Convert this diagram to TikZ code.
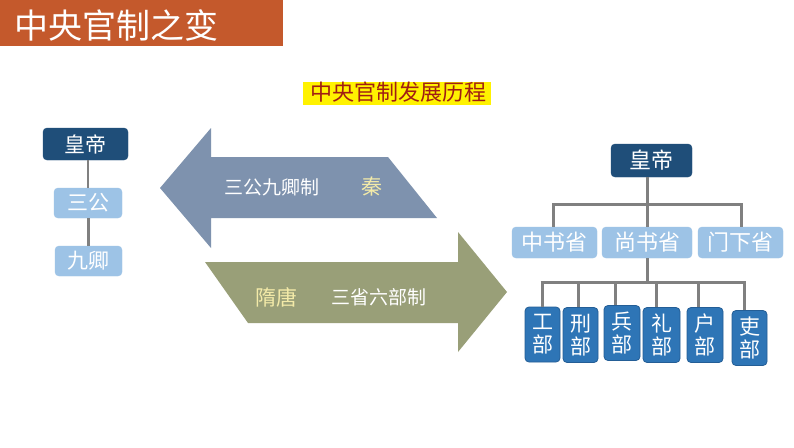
\documentclass[tikz,border=0pt]{standalone}
\usepackage{fontspec}
\newfontfamily\cjk{Noto Sans CJK SC}
\definecolor{titlebar}{RGB}{196,89,44}
\definecolor{arrowblue}{RGB}{126,146,174}
\definecolor{arrowolive}{RGB}{153,159,120}
\definecolor{darkblue}{RGB}{31,78,121}
\definecolor{lightblue}{RGB}{157,195,230}
\definecolor{midblue}{RGB}{46,117,182}
\definecolor{midborder}{RGB}{36,94,150}
\definecolor{paleyellow}{RGB}{243,234,168}
\definecolor{subred}{RGB}{160,30,20}
\definecolor{conngray}{RGB}{128,128,128}
\tikzset{
  darkbox/.style={fill=darkblue, draw=darkblue, rounded corners=4pt, text=white, inner sep=0pt, font=\cjk\fontsize{21}{24}\selectfont},
  lightbox/.style={fill=lightblue, draw=lightblue, rounded corners=4pt, text=white, inner sep=0pt, font=\cjk\fontsize{21}{24}\selectfont},
  bubox/.style={fill=midblue, draw=midborder, line width=0.8pt, rounded corners=4pt, text=white, inner sep=0pt, minimum width=36pt, minimum height=55pt, align=center, font=\cjk\fontsize{21}{23}\selectfont},
  conn/.style={draw=conngray, line width=3pt},
  arrtext/.style={text=white, inner sep=0pt, font=\cjk\fontsize{19}{22}\selectfont},
  erattext/.style={text=paleyellow, inner sep=0pt, font=\cjk\fontsize{21}{24}\selectfont},
}
\begin{document}
\begin{tikzpicture}[x=1pt,y=-1pt]
\useasboundingbox (0,0) rectangle (794,447);
\fill[white] (0,0) rectangle (794,447);
% title bar
\fill[titlebar] (0,0) rectangle (283,46);
\node[anchor=west, text=white, inner sep=0pt, font=\cjk\fontsize{34}{38}\selectfont] (title) at (14,25) {中央官制之变};
% subtitle
\fill[yellow] (303,82) rectangle (491,105);
\node[text=subred, inner sep=0pt, font=\cjk\fontsize{22}{26}\selectfont] (sub) at (398,92.5) {中央官制发展历程};
% left arrow
\fill[arrowblue] (160,188) -- (211,128) -- (211,157) -- (388,157) -- (437,218) -- (211,218) -- (211,248) -- cycle;
\node[arrtext] (sgjq) at (272,187) {三公九卿制};
\node[erattext] (qin) at (372,187) {秦};
% right arrow
\fill[arrowolive] (205,262) -- (458,262) -- (458,232) -- (507,292) -- (458,352) -- (458,323) -- (248,323) -- cycle;
\node[erattext] (st) at (276,297) {隋唐};
\node[arrtext] (ssl) at (379,297) {三省六部制};
% left tree
\node[darkbox, minimum width=85pt, minimum height=32pt] (lh) at (85.5,144) {皇帝};
\node[lightbox, minimum width=68pt, minimum height=30pt] (sg) at (88,203) {三公};
\node[lightbox, minimum width=67pt, minimum height=30pt] (jq) at (88.5,261) {九卿};
\draw[conn, line width=2.5pt] (sg.north) -- (sg.north |- lh.south);
\draw[conn, line width=2.5pt] (jq.north) -- (jq.north |- sg.south);
% right tree
\node[darkbox, minimum width=81pt, minimum height=33pt, font=\cjk\fontsize{22}{26}\selectfont] (rh) at (651.5,160.5) {皇帝};
\node[lightbox, minimum width=85pt, minimum height=31pt, font=\cjk\fontsize{22}{26}\selectfont] (zs) at (554.5,242.5) {中书省};
\node[lightbox, minimum width=90pt, minimum height=31pt, font=\cjk\fontsize{22}{26}\selectfont] (ss) at (647,242.5) {尚书省};
\node[lightbox, minimum width=85pt, minimum height=31pt, font=\cjk\fontsize{22}{26}\selectfont] (mx) at (740.5,242.5) {门下省};
\coordinate (h1l) at (553,204);
\coordinate (h1r) at (741,204);
\draw[conn] (ss.north) -- (ss.north |- rh.south);
\draw[conn] (h1l |- zs.north) -- (h1l) -- (h1r) -- (h1r |- mx.north);
% six ministries
\node[bubox, minimum width=35pt] (b1) at (542.5,334.5) {工\\部};
\node[bubox, minimum width=35pt] (b2) at (580.5,335) {刑\\部};
\node[bubox] (b3) at (622,333) {兵\\部};
\node[bubox, minimum width=37pt] (b4) at (661.5,335) {礼\\部};
\node[bubox] (b5) at (705,335) {户\\部};
\node[bubox, minimum width=35pt] (b6) at (749.5,338) {吏\\部};
\coordinate (t1) at (542,282);
\coordinate (t2) at (578,282);
\coordinate (t3) at (615,282);
\coordinate (t4) at (656,282);
\coordinate (t5) at (698,282);
\coordinate (t6) at (744,282);
\draw[conn] (ss.south) -- (ss.south |- t1);
\draw[conn] ([xshift=-1.5pt]t1) -- ([xshift=1.5pt]t6);
\draw[conn] (t1) -- (t1 |- b1.north);
\draw[conn] (t2) -- (t2 |- b2.north);
\draw[conn] (t3) -- (t3 |- b3.north);
\draw[conn] (t4) -- (t4 |- b4.north);
\draw[conn] (t5) -- (t5 |- b5.north);
\draw[conn] (t6) -- (t6 |- b6.north);
\end{tikzpicture}
\end{document}
